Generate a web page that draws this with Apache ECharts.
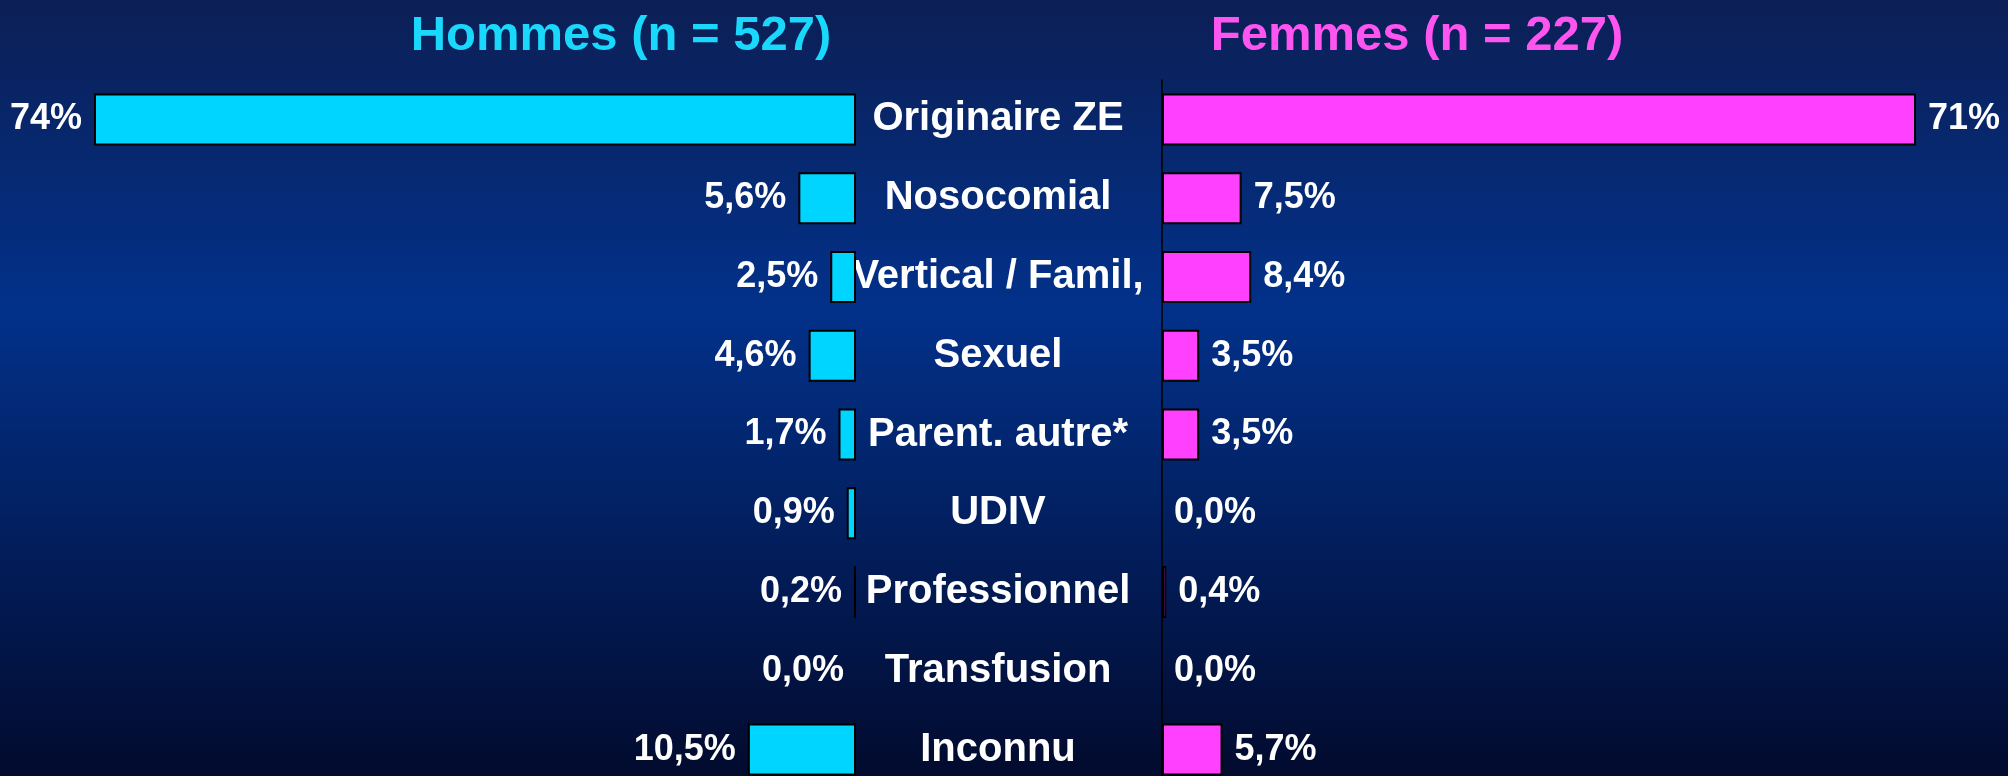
<!DOCTYPE html>
<html>
<head>
<meta charset="utf-8">
<title>Mode de contamination - Hommes / Femmes</title>
<script src="https://cdn.jsdelivr.net/npm/echarts@6/dist/echarts.min.js"></script>
<style>
  html, body { margin: 0; padding: 0; }
  #chart { width: 2008px; height: 776px; }
</style>
</head>
<body>
<div id="chart"></div>
<script>
  // categories, top to bottom
  var categories = ['Originaire ZE', 'Nosocomial', 'Vertical / Famil,', 'Sexuel', 'Parent. autre*', 'UDIV', 'Professionnel', 'Transfusion', 'Inconnu'];
  // % for men (n = 527) and women (n = 227)
  var hommes = [74, 5.6, 2.5, 4.6, 1.7, 0.9, 0.2, 0.0, 10.5];
  var femmes = [71, 7.5, 8.4, 3.5, 3.5, 0.0, 0.4, 0.0, 5.7];
  var titles = ['Hommes (n = 527)', 'Femmes (n = 227)'];

  var FONT = '"Liberation Sans", Arial, sans-serif';
  var shadow = { textShadowColor: 'rgba(0,0,0,0.85)', textShadowOffsetX: 3, textShadowOffsetY: 3, textShadowBlur: 0 };

  // 74 -> "74%", 5.6 -> "5,6%"
  function pct (v) {
    return (v >= 20 ? String(Math.round(v)) : v.toFixed(1).replace('.', ',')) + '%';
  }
  // empty bars: no outline
  function toData (arr) {
    return arr.map(function (v) {
      return v === 0 ? { value: v, itemStyle: { borderWidth: 0 } } : v;
    });
  }

  var labelStyle = Object.assign({
    show: true,
    color: '#fff',
    fontFamily: FONT,
    fontWeight: 'bold',
    fontSize: 36,
    distance: 12,
    formatter: function (p) { return pct(p.value); }
  }, shadow);

  var chart = echarts.init(document.getElementById('chart'));
  chart.setOption({
    animation: false,
    backgroundColor: {
      type: 'linear', x: 0, y: 0, x2: 0, y2: 1,
      colorStops: [
        { offset: 0, color: '#0c1f55' },
        { offset: 0.4, color: '#02318a' },
        { offset: 1, color: '#020b2e' }
      ]
    },
    title: [
      {
        text: titles[0], left: 616, top: 7, textAlign: 'center',
        textStyle: Object.assign({ color: '#1ad8fb', fontSize: 49, fontWeight: 'bold', fontFamily: FONT }, shadow)
      },
      {
        text: titles[1], left: 1412, top: 7, textAlign: 'center',
        textStyle: Object.assign({ color: '#ff55f0', fontSize: 49, fontWeight: 'bold', fontFamily: FONT }, shadow)
      }
    ],
    grid: [
      { left: 94, right: 1152, top: 80, height: 709, outerBoundsMode: 'none', containLabel: false },
      { left: 1162, right: 92, top: 80, height: 709, outerBoundsMode: 'none', containLabel: false }
    ],
    xAxis: [
      { type: 'value', gridIndex: 0, inverse: true, min: 0, max: 'dataMax', show: false },
      { type: 'value', gridIndex: 1, min: 0, max: 'dataMax', show: false }
    ],
    yAxis: [
      {
        type: 'category', gridIndex: 0, inverse: true, data: categories, show: false
      },
      {
        type: 'category', gridIndex: 1, inverse: true, data: categories,
        axisLine: { show: true, lineStyle: { color: '#000', width: 1.5 } },
        axisTick: { show: false },
        axisLabel: Object.assign({
          color: '#fff', fontFamily: FONT, fontWeight: 'bold', fontSize: 40,
          align: 'center', margin: 164
        }, shadow)
      }
    ],
    series: [
      {
        name: 'Hommes', type: 'bar', xAxisIndex: 0, yAxisIndex: 0,
        data: toData(hommes), barWidth: 52,
        itemStyle: { color: '#00d5ff', borderColor: '#000', borderWidth: 2 },
        label: Object.assign({ position: 'left' }, labelStyle)
      },
      {
        name: 'Femmes', type: 'bar', xAxisIndex: 1, yAxisIndex: 1,
        data: toData(femmes), barWidth: 52,
        itemStyle: { color: '#ff40ff', borderColor: '#000', borderWidth: 2 },
        label: Object.assign({ position: 'right' }, labelStyle)
      }
    ]
  });
</script>
</body>
</html>
